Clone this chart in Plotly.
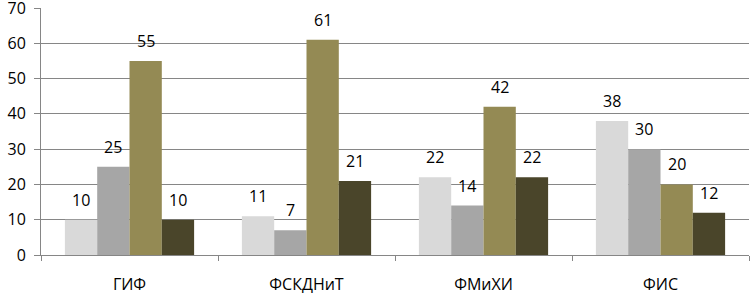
import plotly.graph_objects as go

categories = ["ГИФ", "ФСКДНиТ", "ФМиХИ", "ФИС"]
series1 = [10, 11, 22, 38]
series2 = [25, 7, 14, 30]
series3 = [55, 61, 42, 20]
series4 = [10, 21, 22, 12]
series_names = ["Ряд 1", "Ряд 2", "Ряд 3", "Ряд 4"]
colors = ["#D9D9D9", "#A6A6A6", "#948A54", "#4A452A"]
y_ticks = [0, 10, 20, 30, 40, 50, 60, 70]

all_series = [series1, series2, series3, series4]
bargap = 0.27
FONT = "Open Sans, Liberation Sans, sans-serif"

fig = go.Figure()
for name, vals, col in zip(series_names, all_series, colors):
    fig.add_trace(go.Bar(x=categories, y=vals, name=name, marker=dict(color=col, line=dict(width=0))))

w = (1 - bargap) / len(all_series)
annotations = []
for j, vals in enumerate(all_series):
    off = (j - (len(all_series) - 1) / 2) * w
    for i, v in enumerate(vals):
        annotations.append(dict(x=i + off, y=v, xref="x", yref="y", text=str(v),
                                showarrow=False, yshift=20,
                                font=dict(family=FONT, size=16, color="#000000")))

fig.update_layout(
    width=750, height=298,
    margin=dict(l=41, r=1, t=8, b=43, autoexpand=False),
    barmode="group", bargap=bargap, bargroupgap=0,
    plot_bgcolor="white", paper_bgcolor="white",
    showlegend=False,
    annotations=annotations,
    font=dict(family=FONT, size=16, color="#000000"),
)
fig.update_xaxes(showline=True, linecolor="#868686", linewidth=1, automargin=False,
                 ticks="outside", tickson="boundaries", ticklen=5, tickcolor="#868686",
                 ticklabelstandoff=15,
                 tickfont=dict(family=FONT, size=16), showgrid=False)
fig.update_yaxes(range=[0, 70], tickvals=y_ticks, showgrid=True, gridcolor="#868686", gridwidth=1,
                 showline=True, linecolor="#868686", linewidth=1, automargin=False,
                 ticks="outside", ticklen=6, tickcolor="#868686", zeroline=False,
                 ticklabelstandoff=5, ticklabeloverflow="allow",
                 tickfont=dict(family=FONT, size=16))
fig.write_html("out.html", config={"displayModeBar": False},
               post_script="document.body.style.margin='0';document.body.style.overflow='hidden';")
